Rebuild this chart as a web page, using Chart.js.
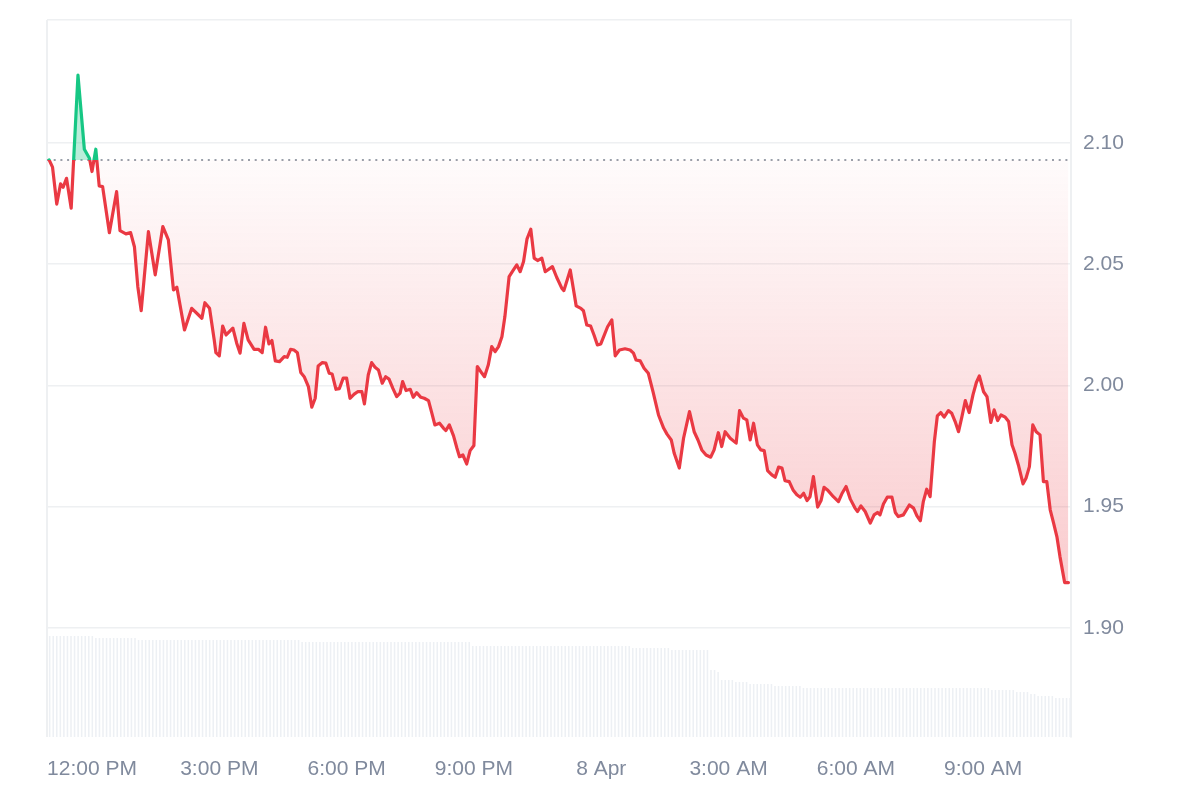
<!DOCTYPE html>
<html>
<head>
<meta charset="utf-8">
<script src="https://cdn.jsdelivr.net/npm/chart.js@4.4.1/dist/chart.umd.min.js"></script>
<style>
  html,body{margin:0;padding:0;background:#fff;}
  #wrap{width:1200px;height:800px;}
</style>
</head>
<body>
<div id="wrap"><canvas id="chart" width="1200" height="800"></canvas></div>
<script>
/* ---------- DATA ---------- */
// hours since 00:00 on 7 Apr (24 = 8 Apr 00:00)
const times = [
  10.99,11.07,11.17,11.26,11.32,11.40,11.51,11.67,11.82,11.94,
  12.00,12.09,12.17,12.25,12.41,12.58,12.66,12.80,12.91,13.00,
  13.08,13.16,13.33,13.49,13.67,13.80,13.92,14.00,14.18,14.35,
  14.59,14.66,14.77,14.88,14.92,15.00,15.08,15.16,15.32,15.41,
  15.49,15.58,15.68,15.82,15.92,16.01,16.09,16.17,16.24,16.32,
  16.42,16.53,16.60,16.68,16.76,16.84,16.92,17.00,17.10,17.18,
  17.26,17.33,17.43,17.51,17.59,17.66,17.75,17.83,17.92,18.00,
  18.08,18.18,18.26,18.36,18.42,18.51,18.59,18.67,18.75,18.84,
  18.92,19.00,19.09,19.18,19.26,19.32,19.40,19.50,19.57,19.65,
  19.75,19.83,19.93,20.01,20.08,20.19,20.28,20.34,20.42,20.52,
  20.60,20.66,20.74,20.83,20.91,21.00,21.08,21.19,21.25,21.34,
  21.42,21.50,21.58,21.66,21.73,21.83,21.92,22.01,22.09,22.17,
  22.25,22.34,22.42,22.50,22.60,22.68,22.85,22.95,23.07,23.12,
  23.27,23.41,23.52,23.58,23.66,23.75,23.83,23.91,23.99,24.15,
  24.25,24.33,24.43,24.56,24.68,24.76,24.82,24.92,25.01,25.11,
  25.22,25.35,25.47,25.55,25.65,25.72,25.84,25.94,26.08,26.19,
  26.28,26.37,26.47,26.58,26.66,26.76,26.84,26.92,27.04,27.18,
  27.26,27.35,27.43,27.51,27.59,27.68,27.76,27.84,27.92,28.02,
  28.10,28.18,28.26,28.33,28.43,28.52,28.61,28.69,28.77,28.85,
  28.92,29.00,29.10,29.18,29.25,29.33,29.47,29.59,29.67,29.77,
  29.87,29.98,30.04,30.12,30.22,30.34,30.43,30.51,30.57,30.65,
  30.74,30.85,30.93,31.00,31.12,31.26,31.36,31.44,31.52,31.59,
  31.67,31.75,31.85,31.92,32.00,32.08,32.18,32.26,32.34,32.42,
  32.50,32.58,32.67,32.76,32.84,32.91,33.01,33.09,33.18,33.26,
  33.34,33.42,33.52,33.60,33.68,33.75,33.83,33.94,34.01,34.09,
  34.17,34.25,34.34,34.42,34.50,34.58,34.66,34.74,34.81,34.92,35.01
];
const prices = [
  2.0930,2.0900,2.0748,2.0831,2.0817,2.0854,2.0731,2.1280,2.0974,2.0937,
  2.0882,2.0974,2.0823,2.0820,2.0630,2.0799,2.0638,2.0625,2.0630,2.0572,
  2.0407,2.0308,2.0634,2.0456,2.0655,2.0600,2.0394,2.0405,2.0229,2.0318,
  2.0277,2.0341,2.0318,2.0188,2.0135,2.0122,2.0245,2.0208,2.0236,2.0174,
  2.0133,2.0256,2.0188,2.0149,2.0149,2.0135,2.0240,2.0171,2.0185,2.0101,
  2.0098,2.0119,2.0116,2.0149,2.0146,2.0135,2.0053,2.0036,1.9995,1.9910,
  1.9947,2.0080,2.0094,2.0092,2.0050,2.0047,1.9984,1.9987,2.0030,2.0030,
  1.9947,1.9964,1.9974,1.9974,1.9924,2.0043,2.0094,2.0075,2.0064,2.0009,
  2.0036,2.0026,1.9988,1.9954,1.9968,2.0016,1.9979,1.9984,1.9951,1.9970,
  1.9951,1.9947,1.9937,1.9885,1.9837,1.9844,1.9824,1.9814,1.9837,1.9792,
  1.9741,1.9706,1.9713,1.9676,1.9731,1.9752,2.0078,2.0050,2.0036,2.0085,
  2.0160,2.0139,2.0160,2.0201,2.0284,2.0449,2.0473,2.0497,2.0469,2.0511,
  2.0603,2.0644,2.0525,2.0515,2.0525,2.0469,2.0490,2.0446,2.0401,2.0391,
  2.0476,2.0328,2.0318,2.0308,2.0249,2.0245,2.0208,2.0167,2.0171,2.0242,
  2.0270,2.0122,2.0146,2.0151,2.0146,2.0133,2.0105,2.0101,2.0071,2.0050,
  1.9974,1.9878,1.9824,1.9799,1.9775,1.9720,1.9659,1.9782,1.9892,1.9809,
  1.9775,1.9734,1.9713,1.9704,1.9734,1.9805,1.9748,1.9809,1.9782,1.9762,
  1.9896,1.9865,1.9858,1.9775,1.9844,1.9755,1.9734,1.9731,1.9649,1.9631,
  1.9621,1.9663,1.9659,1.9607,1.9603,1.9569,1.9549,1.9539,1.9555,1.9525,
  1.9541,1.9624,1.9498,1.9525,1.9580,1.9569,1.9541,1.9521,1.9553,1.9583,
  1.9531,1.9494,1.9480,1.9503,1.9480,1.9432,1.9466,1.9476,1.9466,1.9511,
  1.9539,1.9539,1.9476,1.9459,1.9466,1.9507,1.9494,1.9462,1.9442,1.9521,
  1.9572,1.9541,1.9768,1.9874,1.9888,1.9869,1.9896,1.9885,1.9851,1.9809,
  1.9871,1.9937,1.9888,1.9961,2.0012,2.0039,1.9974,1.9954,1.9847,1.9899,
  1.9855,1.9878,1.9869,1.9851,1.9755,1.9720,1.9672,1.9594,1.9617,1.9665,
  1.9837,1.9809,1.9796,1.9603,1.9603,1.9487,1.9432,1.9374,1.9294,1.9187,1.9187
];
// 5-minute volume bars (thousands), 288 slots
const volume = [
  505,505,505,505,505,505,505,505,505,505,505,505,505,
  495,495,495,495,495,495,495,495,495,495,495,495,
  485,485,485,485,485,485,485,485,485,485,485,485,485,485,485,485,485,485,485,485,485,485,485,
  485,485,485,485,485,485,485,485,485,485,485,485,485,485,485,485,485,485,485,485,485,485,485,
  475,475,475,475,475,475,475,475,475,475,475,475,475,475,475,475,475,475,475,475,475,475,475,475,
  475,475,475,475,475,475,475,475,475,475,475,475,475,475,475,475,475,475,475,475,475,475,475,475,
  455,455,455,455,455,455,455,455,455,455,455,455,455,455,455,455,455,455,455,455,455,455,455,
  455,455,455,455,455,455,455,455,455,455,455,455,455,455,455,455,455,455,455,455,455,455,
  445,445,445,445,445,445,445,445,445,445,445,
  435,435,435,435,435,435,435,435,435,435,435,
  335,335,325,
  285,285,285,285,
  275,275,275,275,
  265,265,265,265,265,265,265,
  255,255,255,255,255,255,255,255,
  245,245,245,245,245,245,245,245,245,245,245,245,245,245,245,245,245,245,245,245,245,245,245,245,245,245,245,
  245,245,245,245,245,245,245,245,245,245,245,245,245,245,245,245,245,245,245,245,245,245,245,245,245,245,
  235,235,235,235,235,235,235,
  225,225,225,225,
  215,215,
  205,205,205,205,205,
  195,195,195,195,195
];
const tickHours = [12, 15, 18, 21, 24, 27, 30, 33];
const tickLabels = ["12:00 PM", "3:00 PM", "6:00 PM", "9:00 PM", "8 Apr", "3:00 AM", "6:00 AM", "9:00 AM"];
const priceTicks = [1.90, 1.95, 2.00, 2.05, 2.10];

/* ---------- THEME ---------- */
const UP = "#16c784", DOWN = "#ea3943", TXT = "#808a9d", GRID = "#eef0f2";
const openPrice = prices[0];
const xMin = 10.94, xMax = 35.07, yMin = 1.855, yMax = 2.1507, volMax = 3585;

Chart.defaults.font.family = '"Liberation Sans", Arial, Helvetica, sans-serif';
Chart.defaults.font.size = 21;
Chart.defaults.color = TXT;

function splitStroke(chart){
  const {ctx, chartArea, scales} = chart;
  if(!chartArea) return DOWN;
  const base = scales.y.getPixelForValue(openPrice);
  const f = Math.min(Math.max((base - chartArea.top) / (chartArea.bottom - chartArea.top), 0), 1);
  const g = ctx.createLinearGradient(0, chartArea.top, 0, chartArea.bottom);
  g.addColorStop(0, UP); g.addColorStop(f, UP); g.addColorStop(f, DOWN); g.addColorStop(1, DOWN);
  return g;
}
function downFill(chart){
  const {ctx, chartArea, scales} = chart;
  if(!chartArea) return "rgba(234,57,67,0.1)";
  const base = scales.y.getPixelForValue(openPrice);
  const low = scales.y.getPixelForValue(Math.min(...prices));
  const g = ctx.createLinearGradient(0, base, 0, low);
  g.addColorStop(0, "rgba(234,57,67,0.02)");
  g.addColorStop(1, "rgba(234,57,67,0.26)");
  return g;
}

/* ---------- FRAME ---------- */
const frame = {id: "frame", beforeDatasetsDraw(chart){
  const {ctx, chartArea: a} = chart;
  ctx.save(); ctx.strokeStyle = GRID; ctx.lineWidth = 2;
  ctx.beginPath(); ctx.moveTo(a.left, a.top); ctx.lineTo(a.left, a.bottom); ctx.stroke();
  ctx.restore();
}};

/* ---------- CHART ---------- */
new Chart(document.getElementById("chart"), {
  type: "line",
  data: {
    labels: volume.map((_, i) => i),
    datasets: [
      {
        data: times.map((t, i) => ({x: t, y: prices[i]})),
        xAxisID: "x", yAxisID: "y", order: 0,
        borderColor: c => splitStroke(c.chart),
        backgroundColor: c => downFill(c.chart),
        fill: {target: {value: openPrice}, above: "rgba(22,199,132,0.3)"},
        borderWidth: 3.2, borderJoinStyle: "round", borderCapStyle: "round",
        pointRadius: 0, tension: 0
      },
      {
        data: [{x: xMin, y: openPrice}, {x: xMax, y: openPrice}],
        xAxisID: "x", yAxisID: "y", order: 1,
        borderColor: "#9aa0aa", borderWidth: 2, borderDash: [2, 4.7],
        pointRadius: 0, fill: false
      },
      {
        type: "bar", data: volume, xAxisID: "xv", yAxisID: "yv", order: 2,
        backgroundColor: "#edf0f4", barPercentage: 0.86, categoryPercentage: 1
      }
    ]
  },
  options: {
    responsive: false, animation: false,
    layout: {padding: {left: 47, top: 20, right: 0, bottom: 0}},
    plugins: {legend: {display: false}, tooltip: {enabled: false}},
    scales: {
      x: {
        type: "linear", min: xMin, max: xMax,
        afterBuildTicks: s => { s.ticks = tickHours.map(v => ({value: v})); },
        afterFit: s => { s.height = 63; s.paddingLeft = 0; s.paddingRight = 0; },
        grid: {display: false, drawTicks: false}, border: {display: false},
        ticks: {autoSkip: false, maxRotation: 0, padding: 20, color: TXT,
          callback: v => tickLabels[tickHours.indexOf(v)]}
      },
      y: {
        position: "right", min: yMin, max: yMax,
        afterBuildTicks: s => { s.ticks = [...priceTicks, yMax].map(v => ({value: v})); },
        afterFit: s => { s.width = 129; s.paddingTop = 0; s.paddingBottom = 0; },
        grid: {color: GRID, lineWidth: 1.5, drawTicks: false},
        border: {display: true, color: GRID, width: 2},
        ticks: {padding: 12, color: TXT,
          callback: v => priceTicks.some(p => Math.abs(p - v) < 1e-9) ? v.toFixed(2) : ""}
      },
      xv: {type: "category", display: false, offset: true, grid: {offset: true}},
      yv: {display: false, min: 0, max: volMax}
    }
  },
  plugins: [frame]
});
</script>
</body>
</html>
